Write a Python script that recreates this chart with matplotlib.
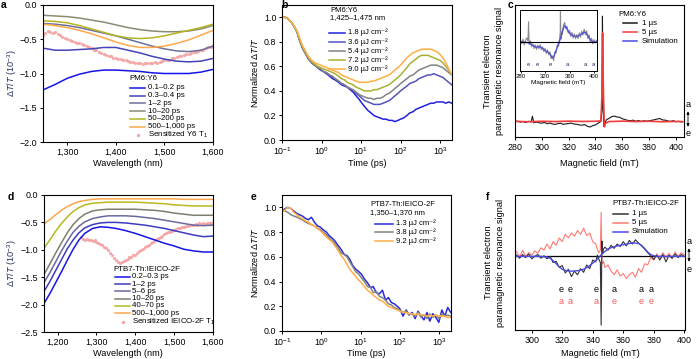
import matplotlib
matplotlib.use('Agg')
import matplotlib.pyplot as plt
from matplotlib.lines import Line2D
from matplotlib.patches import FancyArrowPatch
from matplotlib.ticker import NullLocator

plt.rcParams['font.family'] = ['Liberation Sans', 'DejaVu Sans']
plt.rcParams['mathtext.fontset'] = 'custom'
plt.rcParams['mathtext.rm'] = 'Liberation Sans'
plt.rcParams['mathtext.it'] = 'Liberation Sans:italic'
plt.rcParams['mathtext.bf'] = 'Liberation Sans:bold'

# ---------------- data: panel a ----------------
a_wl = [1250, 1275, 1300, 1325, 1350, 1375, 1400, 1425, 1450, 1475, 1500, 1525, 1550, 1575, 1600]
a_01_02 = [-1.24, -1.16, -1.07, -1.01, -0.97, -0.95, -0.95, -0.96, -0.97, -0.99, -1.0, -1.0, -1.0, -0.98, -0.94]
a_03_04 = [-0.63, -0.66, -0.66, -0.65, -0.64, -0.62, -0.62, -0.66, -0.70, -0.75, -0.79, -0.82, -0.83, -0.82, -0.78]
a_1_2 = [-0.27, -0.28, -0.30, -0.33, -0.37, -0.41, -0.45, -0.50, -0.55, -0.60, -0.64, -0.67, -0.68, -0.66, -0.60]
a_10_20 = [-0.15, -0.16, -0.17, -0.19, -0.22, -0.25, -0.29, -0.33, -0.36, -0.38, -0.39, -0.39, -0.38, -0.35, -0.30]
a_50_200 = [-0.23, -0.24, -0.26, -0.30, -0.35, -0.40, -0.45, -0.48, -0.49, -0.48, -0.45, -0.41, -0.37, -0.33, -0.28]
a_500_1000 = [-0.28, -0.30, -0.33, -0.37, -0.42, -0.48, -0.54, -0.59, -0.62, -0.62, -0.60, -0.56, -0.51, -0.44, -0.37]
a_t1_wl = [1250, 1255, 1260, 1265, 1270, 1275, 1280, 1285, 1290, 1295,
           1300, 1305, 1310, 1315, 1320, 1325, 1330, 1335, 1340, 1345,
           1350, 1355, 1360, 1365, 1370, 1375, 1380, 1385, 1390, 1395,
           1400, 1405, 1410, 1415, 1420, 1425, 1430, 1435, 1440, 1445,
           1450, 1455, 1460, 1465, 1470, 1475, 1480, 1485, 1490, 1495,
           1500, 1505, 1510, 1515, 1520, 1525, 1530, 1535, 1540, 1545,
           1550, 1555, 1560, 1565, 1570, 1575, 1580, 1585, 1590, 1595, 1600]
a_t1 = [-0.44, -0.41, -0.38, -0.40, -0.41, -0.40, -0.43, -0.44, -0.46, -0.48,
        -0.50, -0.51, -0.53, -0.54, -0.55, -0.56, -0.57, -0.59, -0.60, -0.62,
        -0.63, -0.65, -0.66, -0.68, -0.70, -0.71, -0.73, -0.74, -0.75, -0.77,
        -0.77, -0.79, -0.79, -0.81, -0.81, -0.82, -0.83, -0.83, -0.84, -0.85,
        -0.84, -0.86, -0.85, -0.84, -0.85, -0.84, -0.83, -0.84, -0.83, -0.82,
        -0.81, -0.80, -0.80, -0.78, -0.78, -0.76, -0.75, -0.74, -0.73, -0.72,
        -0.71, -0.70, -0.69, -0.68, -0.67, -0.66, -0.65, -0.63, -0.62, -0.61, -0.59]

# ---------------- data: panels b and e (time traces) ----------------
t_ps = [0.1, 0.12, 0.14, 0.17, 0.2, 0.24, 0.28, 0.33, 0.4, 0.47,
        0.56, 0.67, 0.8, 0.95, 1.1, 1.35, 1.6, 1.9, 2.2, 2.7,
        3.2, 3.8, 4.5, 5.3, 6.3, 7.5, 9, 10.5, 12.5, 15,
        18, 21, 25, 30, 36, 43, 51, 61, 72, 86,
        100, 120, 145, 170, 205, 245, 290, 345, 410, 490,
        580, 690, 820, 980, 1170, 1390, 1650, 1970]
b_18 = [1.0, 1.0, 0.99, 0.96, 0.93, 0.88, 0.81, 0.75, 0.70, 0.66,
        0.63, 0.61, 0.59, 0.57, 0.56, 0.54, 0.52, 0.50, 0.49, 0.47,
        0.45, 0.44, 0.43, 0.41, 0.39, 0.36, 0.33, 0.30, 0.27, 0.24,
        0.22, 0.20, 0.19, 0.18, 0.17, 0.17, 0.16, 0.16, 0.15, 0.16,
        0.17, 0.18, 0.20, 0.22, 0.23, 0.25, 0.26, 0.27, 0.28, 0.29,
        0.30, 0.30, 0.31, 0.31, 0.31, 0.30, 0.31, 0.30]
b_36 = [1.0, 1.0, 0.99, 0.96, 0.93, 0.88, 0.81, 0.75, 0.70, 0.66,
        0.63, 0.61, 0.59, 0.57, 0.56, 0.54, 0.53, 0.51, 0.50, 0.48,
        0.46, 0.45, 0.43, 0.42, 0.40, 0.38, 0.36, 0.34, 0.32, 0.31,
        0.30, 0.29, 0.29, 0.29, 0.30, 0.31, 0.32, 0.34, 0.36, 0.38,
        0.40, 0.42, 0.44, 0.46, 0.47, 0.48, 0.50, 0.51, 0.52, 0.53,
        0.53, 0.54, 0.53, 0.52, 0.51, 0.49, 0.47, 0.45]
b_54 = [1.0, 1.0, 0.99, 0.96, 0.93, 0.88, 0.81, 0.75, 0.70, 0.66,
        0.63, 0.61, 0.59, 0.58, 0.56, 0.55, 0.53, 0.52, 0.50, 0.48,
        0.46, 0.45, 0.43, 0.42, 0.41, 0.39, 0.37, 0.36, 0.35, 0.34,
        0.34, 0.33, 0.34, 0.34, 0.35, 0.37, 0.38, 0.40, 0.42, 0.44,
        0.46, 0.48, 0.50, 0.52, 0.53, 0.55, 0.57, 0.58, 0.59, 0.60,
        0.61, 0.61, 0.61, 0.60, 0.59, 0.57, 0.55, 0.53]
b_72 = [1.0, 1.0, 0.99, 0.96, 0.93, 0.88, 0.82, 0.76, 0.71, 0.67,
        0.64, 0.62, 0.60, 0.59, 0.58, 0.57, 0.56, 0.55, 0.54, 0.52,
        0.50, 0.49, 0.47, 0.46, 0.45, 0.43, 0.42, 0.41, 0.40, 0.40,
        0.40, 0.41, 0.41, 0.42, 0.43, 0.44, 0.45, 0.47, 0.49, 0.51,
        0.53, 0.56, 0.59, 0.62, 0.64, 0.66, 0.68, 0.69, 0.69, 0.69,
        0.68, 0.67, 0.66, 0.65, 0.63, 0.60, 0.57, 0.53]
b_90 = [1.0, 1.0, 0.99, 0.96, 0.93, 0.89, 0.83, 0.77, 0.72, 0.68,
        0.65, 0.63, 0.62, 0.61, 0.60, 0.59, 0.58, 0.57, 0.56, 0.55,
        0.53, 0.52, 0.51, 0.50, 0.49, 0.48, 0.47, 0.47, 0.47, 0.47,
        0.48, 0.48, 0.49, 0.50, 0.51, 0.52, 0.53, 0.55, 0.57, 0.59,
        0.61, 0.64, 0.67, 0.69, 0.71, 0.72, 0.73, 0.74, 0.74, 0.74,
        0.74, 0.73, 0.72, 0.70, 0.67, 0.63, 0.58, 0.53]

e_13 = [0.97, 0.99, 1.0, 0.99, 0.97, 0.95, 0.94, 0.93, 0.91, 0.90,
        0.92, 0.88, 0.85, 0.84, 0.82, 0.80, 0.77, 0.75, 0.73, 0.69,
        0.66, 0.62, 0.61, 0.58, 0.53, 0.50, 0.48, 0.46, 0.42, 0.39,
        0.35, 0.36, 0.31, 0.30, 0.33, 0.25, 0.27, 0.23, 0.22, 0.20,
        0.18, 0.12, 0.17, 0.13, 0.15, 0.10, 0.16, 0.12, 0.09, 0.15,
        0.08, 0.14, 0.11, 0.07, 0.17, 0.12, 0.19, 0.15]
e_38 = [0.98, 0.97, 0.96, 0.94, 0.93, 0.92, 0.91, 0.90, 0.88, 0.87,
        0.86, 0.85, 0.83, 0.82, 0.80, 0.78, 0.75, 0.73, 0.71, 0.67,
        0.63, 0.62, 0.60, 0.56, 0.52, 0.48, 0.46, 0.43, 0.40, 0.36,
        0.35, 0.31, 0.32, 0.28, 0.27, 0.25, 0.22, 0.21, 0.19, 0.18,
        0.17, 0.15, 0.16, 0.13, 0.14, 0.12, 0.15, 0.11, 0.13, 0.10,
        0.14, 0.11, 0.13, 0.10, 0.14, 0.12, 0.13, 0.12]
e_92 = [0.96, 0.98, 1.0, 0.99, 0.96, 0.94, 0.92, 0.91, 0.89, 0.88,
        0.86, 0.85, 0.83, 0.81, 0.79, 0.76, 0.74, 0.72, 0.69, 0.65,
        0.61, 0.58, 0.54, 0.50, 0.47, 0.44, 0.41, 0.39, 0.36, 0.33,
        0.31, 0.29, 0.27, 0.25, 0.24, 0.22, 0.20, 0.19, 0.18, 0.17,
        0.16, 0.15, 0.15, 0.14, 0.14, 0.13, 0.14, 0.13, 0.13, 0.12,
        0.13, 0.12, 0.13, 0.12, 0.12, 0.12, 0.11, 0.11]

# ---------------- data: panel c ----------------
c_field = [280, 282, 284, 286, 288, 290, 292, 293, 294, 296,
           298, 300, 302, 304, 306, 308, 310, 312, 314, 316,
           318, 320, 322, 324, 326, 328, 330, 332, 334, 336,
           338, 340, 342, 344, 344.8, 345.2, 345.6, 346.2, 347, 348,
           350, 352, 354, 356, 358, 360, 362, 364, 366, 368,
           370, 372, 374, 376, 378, 380, 382, 384, 386, 388,
           390, 392, 394, 396, 398, 400, 402, 404, 405]
c_black = [0.02, 0.06, -0.04, 0.03, -0.08, 0.05, -0.02, 0.55, -0.10, -0.03,
           -0.10, -0.14, -0.06, -0.20, -0.12, -0.22, -0.26, -0.18, -0.14, -0.26,
           -0.20, -0.17, -0.13, -0.22, -0.25, -0.31, -0.34, -0.28, -0.45, -0.52,
           -0.38, -0.30, -0.14, 0.02, 1.2, 10.4, 1.5, -0.45, -0.20, 0.18,
           0.33, 0.50, 0.56, 0.47, 0.44, 0.30, 0.22, 0.14, 0.10, 0.16,
           0.05, 0.12, 0.04, 0.10, 0.06, 0.09, 0.15, 0.20, 0.27, 0.32,
           0.18, 0.16, 0.08, 0.04, 0.11, 0.0, 0.05, -0.02, 0.0]
c_field_red = [280, 290, 300, 310, 320, 330, 340, 344, 344.8, 345.3,
               345.9, 346.6, 347.4, 350, 360, 370, 380, 390, 400, 405]
c_red = [0.04, 0.0, 0.05, 0.02, 0.06, 0.03, 0.05, 0.08, 2.5, 8.75,
         3.0, -0.5, -0.15, 0.02, 0.06, 0.02, 0.05, 0.0, 0.03, 0.02]
inset_gray = [0.6, -0.5, 0.8, -0.9, 0.4, 1.2, 0.2, 6.0, -0.8, 0.3,
              -1.4, -0.6, -2.0, -0.9, -2.3, -1.0, -2.1, -0.8, -2.4, -1.5,
              -2.9, -1.9, -3.5, -2.4, -3.9, -3.0, -5.0, -4.2, -5.6, -3.0,
              -3.3, -0.9, -1.4, 1.2, 3.0, 10.5, 4.0, 0.8, 2.9, 2.2,
              4.9, 5.8, 3.9, 4.6, 2.6, 3.4, 1.6, 2.8, 1.1, 2.4,
              0.9, 2.2, 1.0, 2.7, 1.4, 3.2, 2.0, 3.8, 2.1, 3.3,
              1.0, 2.1, -0.2, 1.1, -0.6, 0.7, -0.4, 0.5, 0.1]
inset_sim = [0, 0, 0, -0.1, -0.1, -0.2, -0.3, -0.35, -0.4, -0.6,
             -0.9, -1.1, -1.3, -1.5, -1.6, -1.5, -1.4, -1.5, -1.7, -2.0,
             -2.3, -2.6, -2.8, -3.0, -3.2, -3.6, -4.2, -4.8, -4.5, -3.6,
             -2.6, -1.6, -0.6, 0.4, 0.8, 1.0, 1.2, 1.5, 2.1, 2.8,
             4.0, 4.8, 4.5, 3.8, 3.2, 2.7, 2.3, 2.0, 1.8, 1.7,
             1.6, 1.6, 1.7, 1.9, 2.1, 2.4, 2.7, 2.9, 2.8, 2.4,
             1.8, 1.2, 0.7, 0.3, 0.1, 0.0, 0.0, 0.0, 0.0]
inset_letter_field = [292, 307, 329, 356, 386, 399]
inset_letters = ['e', 'e', 'e', 'a', 'a', 'a']

# ---------------- data: panel d ----------------
d_wl = [1165, 1180, 1195, 1210, 1225, 1240, 1255, 1270, 1290, 1310, 1330,
        1350, 1375, 1400, 1425, 1450, 1475, 1500, 1525, 1550, 1575, 1600]
d_02_03 = [-1.98, -1.80, -1.60, -1.40, -1.19, -0.99, -0.82, -0.70, -0.61, -0.58, -0.59,
           -0.61, -0.65, -0.70, -0.76, -0.82, -0.88, -0.93, -0.99, -1.02, -1.04, -1.04]
d_1_2 = [-1.76, -1.58, -1.38, -1.18, -0.98, -0.82, -0.69, -0.60, -0.54, -0.51, -0.50,
         -0.50, -0.51, -0.53, -0.55, -0.58, -0.61, -0.65, -0.69, -0.73, -0.76, -0.75]
d_5_6 = [-1.60, -1.42, -1.22, -1.02, -0.84, -0.68, -0.57, -0.49, -0.43, -0.40, -0.38,
         -0.38, -0.38, -0.39, -0.41, -0.43, -0.46, -0.49, -0.52, -0.55, -0.56, -0.55]
d_10_20 = [-1.45, -1.26, -1.06, -0.87, -0.69, -0.54, -0.43, -0.35, -0.29, -0.27, -0.26,
           -0.26, -0.26, -0.26, -0.27, -0.28, -0.30, -0.33, -0.35, -0.37, -0.37, -0.37]
d_40_70 = [-0.97, -0.82, -0.66, -0.52, -0.40, -0.30, -0.23, -0.18, -0.15, -0.14, -0.13,
           -0.13, -0.13, -0.13, -0.14, -0.15, -0.16, -0.18, -0.19, -0.20, -0.20, -0.20]
d_500_1000 = [-0.53, -0.45, -0.36, -0.28, -0.21, -0.16, -0.12, -0.10, -0.08, -0.07, -0.07,
              -0.07, -0.07, -0.07, -0.07, -0.07, -0.07, -0.07, -0.08, -0.08, -0.08, -0.08]
d_t1_wl = [1260, 1265, 1270, 1275, 1280, 1285, 1290, 1295, 1300, 1305,
           1310, 1315, 1320, 1325, 1330, 1335, 1340, 1345, 1350, 1355,
           1360, 1365, 1370, 1375, 1380, 1385, 1390, 1395, 1400, 1405,
           1410, 1415, 1420, 1425, 1430, 1435, 1440, 1445, 1450, 1455,
           1460, 1465, 1470, 1475, 1480, 1485, 1490, 1495, 1500, 1505,
           1510, 1515, 1520, 1525, 1530, 1535, 1540, 1545, 1550, 1555,
           1560, 1565, 1570, 1575, 1580, 1585, 1590, 1595, 1600]
d_t1 = [-0.76, -0.80, -0.82, -0.81, -0.83, -0.82, -0.84, -0.83, -0.86, -0.87,
        -0.90, -0.92, -0.95, -0.97, -1.00, -1.05, -1.10, -1.15, -1.19, -1.22,
        -1.24, -1.22, -1.21, -1.18, -1.17, -1.14, -1.13, -1.10, -1.09, -1.06,
        -1.03, -1.00, -0.98, -0.95, -0.93, -0.91, -0.88, -0.86, -0.83, -0.81,
        -0.79, -0.77, -0.74, -0.72, -0.70, -0.68, -0.67, -0.65, -0.63, -0.62,
        -0.61, -0.60, -0.59, -0.58, -0.57, -0.56, -0.55, -0.54, -0.55, -0.53,
        -0.54, -0.52, -0.53, -0.52, -0.53, -0.51, -0.52, -0.51, -0.50]

# ---------------- data: panel f ----------------
f_field = [290, 292, 294, 296, 298, 300, 302, 304, 306, 308,
           310, 312, 314, 316, 318, 320, 322, 324, 326, 328,
           330, 332, 334, 336, 338, 340, 342, 343, 344, 345,
           345.5, 346, 346.5, 347, 348, 350, 352, 354, 356, 358,
           360, 362, 364, 366, 368, 370, 372, 374, 376, 378,
           380, 382, 384, 386, 388, 390, 392, 394, 396, 398, 400]
f_black = [0.02, -0.03, 0.03, -0.02, 0.04, -0.04, 0.0, 0.03, -0.03, 0.01,
           -0.04, 0.0, -0.10, -0.08, -0.18, -0.15, -0.27, -0.21, -0.33, -0.24,
           -0.30, -0.20, -0.26, -0.14, -0.20, -0.06, -0.09, 0.02, -0.05, -0.10,
           -1.12, 0.25, 0.05, 0.12, 0.15, 0.10, 0.18, 0.13, 0.20, 0.16,
           0.24, 0.17, 0.26, 0.20, 0.27, 0.22, 0.17, 0.12, 0.06, 0.01,
           -0.05, 0.02, -0.06, 0.03, -0.09, 0.02, -0.03, 0.04, -0.02, 0.03, 0.0]
f_red = [0.08, -0.02, 0.10, 0.0, 0.06, 0.02, 0.09, 0.05, 0.14, 0.10,
         0.20, 0.12, 0.24, 0.18, 0.30, 0.24, 0.36, 0.30, 0.38, 0.33,
         0.42, 0.36, 0.46, 0.34, 0.38, 0.24, 0.20, 0.12, 0.06, 0.10,
         0.72, -0.10, -0.12, -0.08, -0.18, -0.14, -0.24, -0.30, -0.22, -0.32,
         -0.28, -0.36, -0.30, -0.26, -0.34, -0.20, -0.26, -0.12, -0.14, -0.02,
         -0.06, 0.04, -0.03, 0.06, -0.02, 0.05, -0.04, 0.07, 0.0, 0.06, 0.03]
f_sim_field = [290, 305, 310, 312, 314, 316, 318, 320, 322, 325, 328, 331, 334, 337, 340, 342,
               344, 346, 348, 350, 353, 356, 360, 364, 367, 370, 372, 374, 376, 378, 380, 383, 400]
f_sim = [0, 0, -0.01, -0.03, -0.07, -0.12, -0.17, -0.21, -0.23, -0.24, -0.24, -0.23, -0.21, -0.17, -0.11, -0.07,
         -0.02, 0.04, 0.08, 0.12, 0.15, 0.17, 0.19, 0.21, 0.22, 0.21, 0.18, 0.13, 0.07, 0.03, 0.01, 0, 0]
f_letter_field = [319, 325, 342.5, 354, 372, 378]
f_letters_1us = ['e', 'e', 'e', 'a', 'a', 'a']
f_letters_5us = ['a', 'a', 'a', 'e', 'e', 'e']

# ---------------- figure ----------------
W, H = 698, 359
fig = plt.figure(figsize=(6.98, 3.59), dpi=100)


def rect(x0, y0, x1, y1):
    return [x0 / W, 1 - y1 / H, (x1 - x0) / W, (y1 - y0) / H]


def P(x, y):
    return (x / W, 1 - y / H)


TICK_FS = 6.4
LAB_FS = 6.6
LEG_FS = 5.7
YLAB_COLOR = '#23305f'
FLUENCE_UNIT = ' \u00b5J cm\u207b\u00b2'


def style(ax):
    for s in ax.spines.values():
        s.set_linewidth(0.8)
    ax.tick_params(which='major', direction='out', length=2.5, width=0.7,
                   labelsize=TICK_FS, pad=1.5)
    ax.xaxis.set_minor_locator(NullLocator())
    ax.yaxis.set_minor_locator(NullLocator())


def ftext(x, y, s, **kw):
    kw.setdefault('fontsize', LEG_FS)
    kw.setdefault('va', 'center')
    kw.setdefault('ha', 'left')
    fig.text(*P(x, y), s, **kw)


def manual_legend(title_lines, tx, ty0, tpitch, entries, hx0, hx1, txt_x, rows, fs=LEG_FS):
    for i, t in enumerate(title_lines):
        ftext(tx, ty0 + i * tpitch, t, fontsize=fs)
    for (lab, col, kind), y in zip(entries, rows):
        if kind == 'line':
            fig.add_artist(Line2D([hx0 / W, hx1 / W], [1 - y / H] * 2, color=col, lw=1.1,
                                  transform=fig.transFigure))
        else:
            fig.add_artist(Line2D([(hx0 + hx1) / 2 / W], [1 - y / H], color=col, lw=0,
                                  marker='o', ms=2.4, mec='none', transform=fig.transFigure))
        ftext(txt_x, y, lab, fontsize=fs)


def panel_letter(x, y, s):
    fig.text(*P(x, y), s, fontsize=7.5, fontweight='bold', ha='center', va='center')


# ---- panel a ----
ax = fig.add_axes(rect(43, 5, 213, 142))
a_cols = ['#1515e8', '#4444b8', '#6e6e9e', '#8b8b74', '#b3b520', '#ffa948']
a_series = [a_01_02, a_03_04, a_1_2, a_10_20, a_50_200, a_500_1000]
ax.plot(a_t1_wl, a_t1, 'o', ms=2.3, color='#f4a2a2', mec='none', alpha=0.9, zorder=1)
for ys, c in zip(a_series, a_cols):
    ax.plot(a_wl, ys, color=c, lw=1.1, zorder=2)
ax.set_xlim(1250, 1600)
ax.set_ylim(-2.0, 0.0)
ax.set_xticks([1300, 1400, 1500, 1600])
ax.set_xticklabels(['1,300', '1,400', '1,500', '1,600'])
ax.set_yticks([-2.0, -1.5, -1.0, -0.5, 0.0])
ax.set_yticklabels(['\u22122.0', '\u22121.5', '\u22121.0', '\u22120.5', '0.0'])
style(ax)
ftext(128, 163, 'Wavelength (nm)', fontsize=LAB_FS, ha='center')
fig.text(*P(12, 73.5), r'$\Delta T/T$ (10$^{-3}$)', rotation=90, fontsize=LAB_FS,
         ha='center', va='center', color=YLAB_COLOR)
a_labels = ['0.1\u20130.2 ps', '0.3\u20130.4 ps', '1\u20132 ps', '10\u201320 ps', '50\u2013200 ps',
            '500\u20131,000 ps']
manual_legend(['PM6:Y6'], 129, 78.5, 0,
              [(l, c, 'line') for l, c in zip(a_labels, a_cols)] +
              [('Sensitized Y6 T$_1$', '#f4a2a2', 'marker')],
              130, 145, 148, [87.7, 95.6, 103.4, 111.2, 119, 126.8, 134.8])
panel_letter(4, 5, 'a')

# ---- panel b ----
ax = fig.add_axes(rect(282, 5, 452, 140))
b_cols = ['#2020e0', '#5353c0', '#838383', '#a9b132', '#ffae45']
for ys, c in zip([b_18, b_36, b_54, b_72, b_90], b_cols):
    ax.plot(t_ps, ys, color=c, lw=1.1)
ax.set_xscale('log')
ax.set_xlim(0.1, 2000)
ax.set_ylim(0, 1.1)
ax.set_xticks([0.1, 1, 10, 100, 1000])
ax.set_yticks([0.0, 0.2, 0.4, 0.6, 0.8, 1.0])
ax.set_yticklabels(['0.0', '0.2', '0.4', '0.6', '0.8', '1.0'])
style(ax)
ftext(367, 163, 'Time (ps)', fontsize=LAB_FS, ha='center')
fig.text(*P(255, 72.5), r'Normalized $\Delta T/T$', rotation=90, fontsize=LAB_FS,
         ha='center', va='center')
b_fluence = ['1.8', '3.6', '5.4', '7.2', '9.0']
manual_legend(['PM6:Y6', '1,425\u20131,475 nm'], 330, 10.7, 7.0,
              [(f + FLUENCE_UNIT, c, 'line') for f, c in zip(b_fluence, b_cols)],
              329, 345, 348, [32.5, 41.7, 50.9, 60.1, 69.3], fs=5.5)
panel_letter(284.5, 5, 'b')

# ---- panel c ----
ax = fig.add_axes(rect(515, 5, 684, 137))
ax.plot(c_field, c_black, color='#1a1a1a', lw=0.8)
ax.plot(c_field_red, c_red, color='#f23a3a', lw=1.2)
ax.set_xlim(280, 406)
ax.set_ylim(-1.5, 11.5)
ax.set_xticks([280, 300, 320, 340, 360, 380, 400])
ax.set_yticks([])
style(ax)
ftext(599, 163, 'Magnetic field (mT)', fontsize=LAB_FS, ha='center')
fig.text(*P(487, 71), 'Transient electron', rotation=90, fontsize=LAB_FS, ha='center', va='center')
fig.text(*P(500, 71), 'paramagnetic resonance signal', rotation=90, fontsize=LAB_FS,
         ha='center', va='center')
manual_legend(['PM6:Y6'], 618, 14.3, 0,
              [('1 \u00b5s', '#1a1a1a', 'line'), ('5 \u00b5s', '#f23a3a', 'line'),
               ('Simulation', '#4a4ae6', 'line')],
              623, 637, 642, [23.3, 32.3, 41.3])
ftext(688, 104, 'a', fontsize=LAB_FS, ha='center')
ftext(688, 134, 'e', fontsize=LAB_FS, ha='center')
fig.add_artist(FancyArrowPatch(P(688, 108.5), P(688, 129.5), arrowstyle='<|-|>', mutation_scale=4,
                               lw=0.6, color='black', transform=fig.transFigure))
panel_letter(510, 5, 'c')

# inset
axi = fig.add_axes(rect(520, 10, 597, 71))
axi.plot(c_field, inset_gray, color='#8c8c8c', lw=0.8)
axi.plot(c_field, inset_sim, color='#5353d8', lw=1.0)
axi.axhline(0, color='black', lw=0.8)
for xf, s in zip(inset_letter_field, inset_letters):
    axi.text(xf, -6.8, s, fontsize=4.3, ha='center', va='center', color='#2a2a66')
axi.set_xlim(279, 405)
axi.set_ylim(-8.7, 9.5)
axi.set_yticks([])
axi.set_xticks([280, 320, 360, 400])
for s in axi.spines.values():
    s.set_linewidth(0.7)
axi.tick_params(direction='out', length=1.2, width=0.6, labelsize=4.3, pad=0.6)
ftext(558, 82.5, 'Magnetic field (mT)', fontsize=4.6, ha='center')

# ---- panel d ----
ax = fig.add_axes(rect(44, 195, 213, 332))
d_cols = ['#1515e8', '#3c3cc0', '#6a6aa0', '#7e7e6c', '#b8b820', '#ffa64c']
d_series = [d_02_03, d_1_2, d_5_6, d_10_20, d_40_70, d_500_1000]
ax.plot(d_t1_wl, d_t1, 'o', ms=2.3, color='#f4a2a2', mec='none', alpha=0.9, zorder=1)
for ys, c in zip(d_series, d_cols):
    ax.plot(d_wl, ys, color=c, lw=1.1, zorder=2)
ax.set_xlim(1165, 1600)
ax.set_ylim(-2.5, 0.0)
ax.set_xticks([1200, 1300, 1400, 1500, 1600])
ax.set_xticklabels(['1,200', '1,300', '1,400', '1,500', '1,600'])
ax.set_yticks([-2.5, -2.0, -1.5, -1.0, -0.5, 0.0])
ax.set_yticklabels(['\u22122.5', '\u22122.0', '\u22121.5', '\u22121.0', '\u22120.5', '0.0'])
style(ax)
ftext(128, 353, 'Wavelength (nm)', fontsize=LAB_FS, ha='center')
fig.text(*P(12, 263.5), r'$\Delta T/T$ (10$^{-3}$)', rotation=90, fontsize=LAB_FS,
         ha='center', va='center', color=YLAB_COLOR)
d_labels = ['0.2\u20130.3 ps', '1\u20132 ps', '5\u20136 ps', '10\u201320 ps', '40\u201370 ps',
            '500\u20131,000 ps']
manual_legend(['PTB7-Th:IEICO-2F'], 113, 269.3, 0,
              [(l, c, 'line') for l, c in zip(d_labels, d_cols)] +
              [('Sensitized IEICO-2F T$_1$', '#f4a2a2', 'marker')],
              115, 130, 132, [276.7, 284, 291.2, 298.5, 305.8, 313.3, 321.7])
panel_letter(11, 197, 'd')

# ---- panel e ----
ax = fig.add_axes(rect(282, 195, 451, 331))
e_cols = ['#2a2ad8', '#838383', '#ffae45']
for ys, c in zip([e_13, e_38, e_92], e_cols):
    ax.plot(t_ps, ys, color=c, lw=1.1)
ax.set_xscale('log')
ax.set_xlim(0.1, 2000)
ax.set_ylim(0, 1.1)
ax.set_xticks([0.1, 1, 10, 100, 1000])
ax.set_yticks([0.0, 0.2, 0.4, 0.6, 0.8, 1.0])
ax.set_yticklabels(['0.0', '0.2', '0.4', '0.6', '0.8', '1.0'])
style(ax)
ftext(366, 354, 'Time (ps)', fontsize=LAB_FS, ha='center')
fig.text(*P(255, 263), r'Normalized $\Delta T/T$', rotation=90, fontsize=LAB_FS,
         ha='center', va='center')
e_fluence = ['1.3', '3.8', '9.2']
manual_legend(['PTB7-Th:IEICO-2F', '1,350\u20131,370 nm'], 370, 204, 9.0,
              [(f + FLUENCE_UNIT, c, 'line') for f, c in zip(e_fluence, e_cols)],
              375, 393, 396, [223.6, 232.4, 241.2], fs=5.5)
panel_letter(253.5, 197, 'e')

# ---- panel f ----
ax = fig.add_axes(rect(515, 195, 685, 330))
ax.axhline(0, color='black', lw=0.9, zorder=1)
ax.plot(f_field, f_red, color='#ff7a72', lw=0.8, zorder=2)
ax.plot(f_field, f_black, color='#333333', lw=0.8, zorder=3)
ax.plot(f_sim_field, f_sim, color='#4a4ae6', lw=1.0, zorder=4)
for xf, s1, s5 in zip(f_letter_field, f_letters_1us, f_letters_5us):
    ax.text(xf, -0.54, s1, fontsize=6.5, ha='center', va='center', color='black')
    ax.text(xf, -0.73, s5, fontsize=6.5, ha='center', va='center', color='#f25a5a')
ax.set_xlim(289, 400.5)
ax.set_ylim(-1.2, 1.0)
ax.set_xticks([300, 320, 340, 360, 380, 400])
ax.set_yticks([])
style(ax)
ftext(600, 354, 'Magnetic field (mT)', fontsize=LAB_FS, ha='center')
fig.text(*P(488, 262.5), 'Transient electron', rotation=90, fontsize=LAB_FS, ha='center', va='center')
fig.text(*P(500.5, 262.5), 'paramagnetic resonance signal', rotation=90, fontsize=LAB_FS,
         ha='center', va='center')
manual_legend(['PTB7-Th:IEICO-2F'], 612, 203.5, 0,
              [('1 \u00b5s', '#333333', 'line'), ('5 \u00b5s', '#ff7a72', 'line'),
               ('Simulation', '#4a4ae6', 'line')],
              613, 628, 632, [213.5, 222.5, 231.5])
ftext(689, 241, 'a', fontsize=LAB_FS, ha='center')
ftext(689, 269, 'e', fontsize=LAB_FS, ha='center')
fig.add_artist(FancyArrowPatch(P(689, 245.5), P(689, 264.5), arrowstyle='<|-|>', mutation_scale=4,
                               lw=0.6, color='black', transform=fig.transFigure))
panel_letter(487.5, 197, 'f')

fig.savefig('out.png', dpi=100)
